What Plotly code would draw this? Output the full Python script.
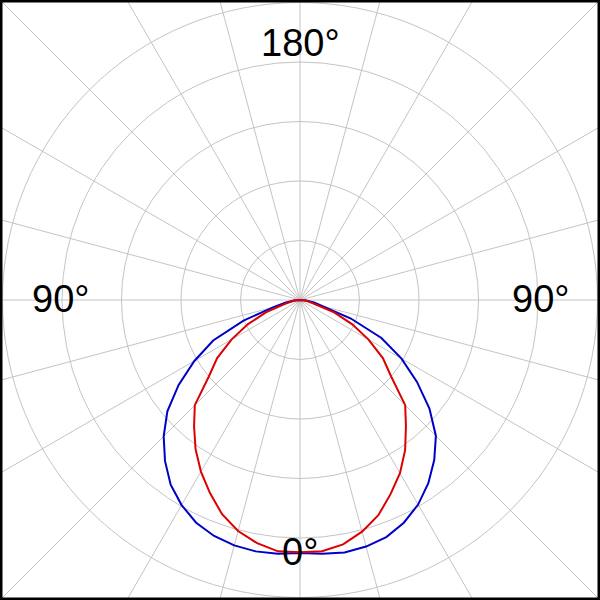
import numpy as np
import plotly.graph_objects as go

# Angles (deg, 0 = nadir / downward, positive to the right)
angles_deg = [-90, -85, -80, -75, -70, -65, -60, -55, -50, -45, -40, -35, -30, -25, -20, -15, -10, -5,
              0, 5, 10, 15, 20, 25, 30, 35, 40, 45, 50, 55, 60, 65, 70, 75, 80, 85, 90]

# Luminous intensity (cd) - C0/C180 plane (blue)
blue_cd = [0, 10, 24, 45, 101, 161, 205, 249, 291, 324, 353, 379, 398, 413, 422, 427, 429, 428,
           425, 428, 431, 429, 424, 413, 397, 376, 351, 323, 284, 240, 197, 151, 91, 40, 24, 10, 0]

# Luminous intensity (cd) - C90/C270 plane (red)
red_cd = [0, 7, 15, 27, 61, 97, 133, 170, 200, 250, 277, 306, 333, 358, 383, 402, 415, 424,
          424, 424, 417, 403, 385, 360, 336, 308, 277, 250, 200, 170, 133, 97, 61, 27, 15, 7, 0]

ring_values = [100, 200, 300, 400, 500]
spoke_angles = [0, 15, 30, 45, 60, 75, 90, 105, 120, 135, 150, 165,
                180, 195, 210, 225, 240, 255, 270, 285, 300, 315, 330, 345]

angle_labels = ["180°", "90°", "90°", "0°"]

R_MAX = 504.2  # axis half-range so that the 500 cd ring sits just inside the frame


def to_xy(theta_deg, r):
    t = np.radians(np.asarray(theta_deg, dtype=float))
    r = np.asarray(r, dtype=float)
    return r * np.sin(t), -r * np.cos(t)


fig = go.Figure()

bx, by = to_xy(angles_deg, blue_cd)
rx, ry = to_xy(angles_deg, red_cd)

fig.add_trace(go.Scatter(x=bx, y=by, mode="lines", name="C0-C180",
                         line=dict(color="#0000C8", width=2), hoverinfo="skip"))
fig.add_trace(go.Scatter(x=rx, y=ry, mode="lines", name="C90-C270",
                         line=dict(color="#DC0000", width=2), hoverinfo="skip"))

shapes = []
grid_col = "#C4C4C4"
for rv in ring_values:
    shapes.append(dict(type="circle", xref="x", yref="y", x0=-rv, x1=rv, y0=-rv, y1=rv,
                       line=dict(color=grid_col, width=1), layer="below"))
for a in spoke_angles:
    ex, ey = to_xy([a], [900])
    shapes.append(dict(type="line", xref="x", yref="y", x0=0, y0=0, x1=float(ex[0]), y1=float(ey[0]),
                       line=dict(color=grid_col, width=1), layer="below"))

# white boxes behind angle labels (hide grid, keep curves on top)
label_boxes = [
    (262 / 600, 338 / 600, 1 - 18 / 600, 1 - 65 / 600),
    (30 / 600, 90 / 600, 1 - 277 / 600, 1 - 322 / 600),
    (510 / 600, 570 / 600, 1 - 277 / 600, 1 - 322 / 600),
    (281 / 600, 318 / 600, 1 - 535 / 600, 1 - 578 / 600),
]
for x0, x1, y0, y1 in label_boxes:
    shapes.append(dict(type="rect", xref="paper", yref="paper", x0=x0, x1=x1, y0=y1, y1=y0,
                       fillcolor="white", line=dict(width=0), layer="below"))

# outer frame
shapes.append(dict(type="rect", xref="paper", yref="paper", x0=0, x1=1, y0=0, y1=1,
                   line=dict(color="black", width=5), layer="above"))

label_pos = [(0.5, 1 - 43 / 600), (60 / 600, 1 - 299 / 600), (540 / 600, 1 - 299 / 600), (0.5, 1 - 552 / 600)]
annotations = []
for txt, (ax, ay) in zip(angle_labels, label_pos):
    annotations.append(dict(text=txt, x=ax, y=ay, xref="paper", yref="paper", showarrow=False,
                            xanchor="center", yanchor="middle",
                            font=dict(family="Liberation Sans, Arial", size=38, color="black")))

fig.update_layout(
    width=600, height=600,
    margin=dict(l=0, r=0, t=0, b=0),
    paper_bgcolor="white", plot_bgcolor="white",
    showlegend=False,
    shapes=shapes,
    annotations=annotations,
    xaxis=dict(range=[-R_MAX, R_MAX], visible=False, showgrid=False, zeroline=False, fixedrange=True),
    yaxis=dict(range=[-R_MAX, R_MAX], visible=False, showgrid=False, zeroline=False, fixedrange=True),
)

fig.write_html("out.html", config={"displayModeBar": False},
               post_script="document.body.style.margin='0';document.body.style.overflow='hidden';")
